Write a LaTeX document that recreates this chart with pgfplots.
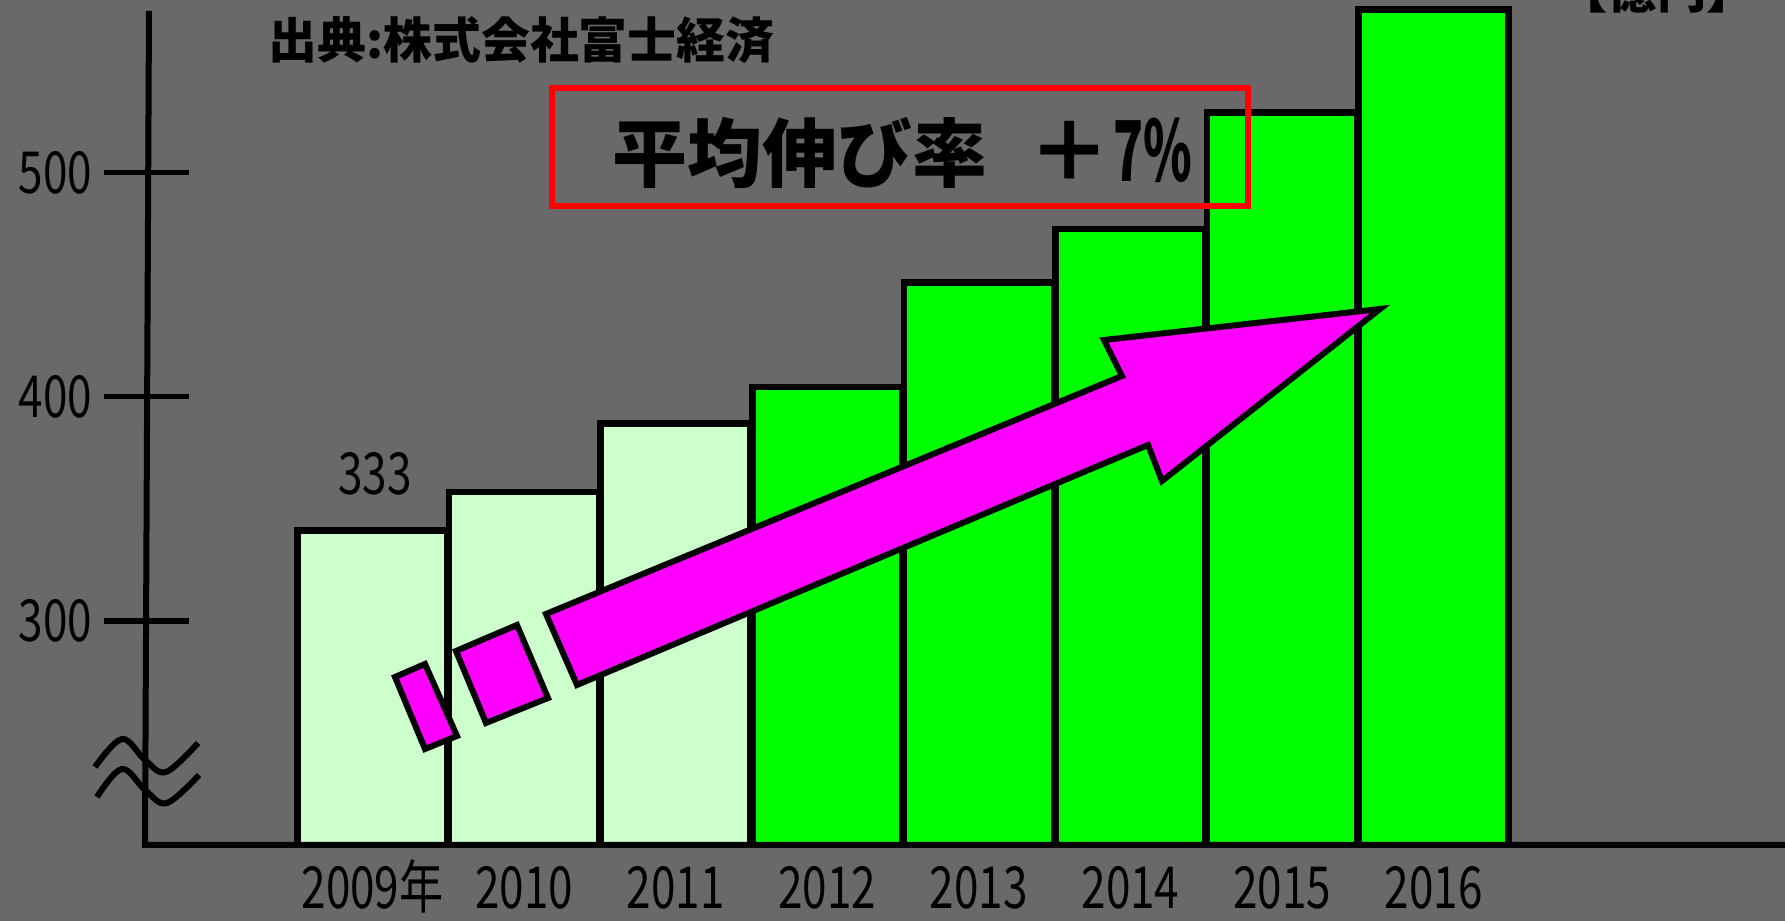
\documentclass[border=0pt]{standalone}
\usepackage{fontspec}
\setmainfont{Noto Sans CJK JP}
\newfontfamily\numfont[FakeStretch=0.76]{Noto Sans CJK JP}
\usepackage{graphicx}
\usepackage{pgfplots}
\pgfplotsset{compat=1.18}
\definecolor{bg}{RGB}{105,105,105}
\definecolor{lightg}{RGB}{204,255,204}
\definecolor{brightg}{RGB}{0,255,0}
\definecolor{mag}{RGB}{255,0,255}
\begin{document}
\begin{tikzpicture}
\begin{scope}[x=0.1mm,y=-0.1mm,shift={(-14.7mm,84.5mm)}]
\fill[bg] (0,0) rectangle (1785,921);
\end{scope}
\begin{axis}[
  at={(0,0)}, anchor=south west,
  scale only axis, width=163.8mm, height=84.5mm,
  xmin=-1.4875, xmax=9.317, ymin=200, ymax=577,
  axis x line=bottom, axis y line=left,
  axis line style={draw=none},
  xtick={0,...,7},
  xticklabels={2009年,2010,2011,2012,2013,2014,2015,2016},
  ytick={300,400,500},
  tick align=center,
  major tick length=8.5mm,
  xtick style={draw=none},
  ytick style={draw=black, line width=0.55mm},
  /pgf/number format/assume math mode=true,
  ticklabel style={font=\numfont\fontsize{16.5}{18}\selectfont, text=black},
  xticklabel style={yshift=1.7mm, text height=0.74em, text depth=0.1em},
]
\addplot[ybar, bar width=15mm, bar shift=0pt, fill=lightg, draw=black, line width=0.65mm]
  coordinates {(0,340.3) (1,357.5) (2,388.1)};
\addplot[ybar, bar width=15mm, bar shift=0pt, fill=brightg, draw=black, line width=0.65mm]
  coordinates {(3,404.3) (4,451.0) (5,474.9) (6,526.7) (7,572.8)};
\end{axis}
\begin{scope}[x=0.1mm,y=-0.1mm,shift={(-14.7mm,84.5mm)}]
 \draw[line width=0.6mm, line join=miter] (149,11) -- (145,845) -- (1785,845);
 \draw[line width=0.6mm] plot[smooth, tension=0.6] coordinates {(95,767) (122,739) (145,760) (166,772) (198,743)};
 \draw[line width=0.6mm] plot[smooth, tension=0.6] coordinates {(97,797) (122,769) (146,791) (167,803) (199,775)};
 \filldraw[fill=mag, draw=black, line width=0.6mm, line join=miter]
   (577,685) -- (546,614) -- (1122,376) -- (1104,340) -- (1380,309) -- (1162,481) -- (1148,445) -- cycle;
 \filldraw[fill=mag, draw=black, line width=0.6mm] (395,677) -- (425,664) -- (457,736) -- (425,749) -- cycle;
 \filldraw[fill=mag, draw=black, line width=0.6mm] (456,651) -- (517,625) -- (548,698) -- (486,723) -- cycle;
 \draw[red, line width=0.65mm] (552,88) rectangle (1248,206);
 \node[anchor=west, inner sep=0, font=\bfseries\fontsize{21.3}{24}\selectfont] at (612,153) {平均伸び率};
 \node[inner sep=0, font=\bfseries\fontsize{21.3}{24}\selectfont] at (1070,151) {\scalebox{1.1}[1.1]{＋}};
 \node[anchor=west, inner sep=0, font=\bfseries\fontsize{21.3}{24}\selectfont] at (1113,150) {\scalebox{0.66}[1.12]{7\%}};
 \node[anchor=west, inner sep=0, font=\bfseries\fontsize{13.9}{15}\selectfont] at (268,40) {出典:株式会社富士経済};
 \node[font=\numfont\fontsize{16.5}{18}\selectfont, inner sep=0] at (375,474) {333};
 \node[anchor=base, inner sep=0, font=\bfseries\fontsize{14}{15}\selectfont] at (1657,9) {【億円】};
 \pgfresetboundingbox
 \path[use as bounding box] (0,0) rectangle (1785,921);
\end{scope}
\end{tikzpicture}
\end{document}
